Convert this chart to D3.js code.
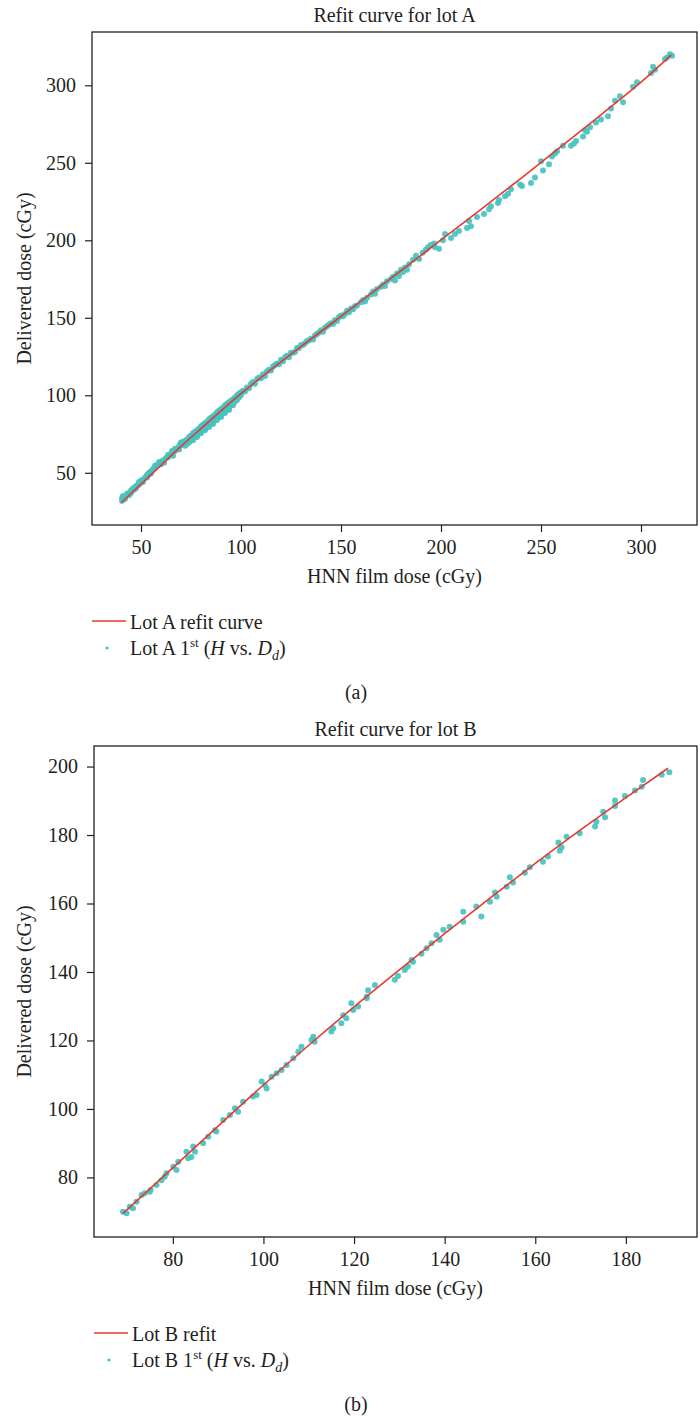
<!DOCTYPE html>
<html><head><meta charset="utf-8">
<script src="https://cdn.jsdelivr.net/npm/d3@7"></script>
<style>
body{margin:0;background:#fff}
svg{display:block}
text{font-family:"Liberation Serif","Times New Roman",serif;fill:#231f20}
</style>
</head><body>
<svg id="chart" width="700" height="1416"></svg>
<script>
// ---------- Data: Lot A measured points [HNN film dose, delivered dose] ----------
const lotA_points = [
[40.5,33.5],[40.5,32],[41,35],[42,34],[42,33],[43,36.5],[44,37],[44,35.5],[45,38.5],[45,37],[46,40],[46.5,39],[47.5,41.5],[47.5,40],
[48.5,42],[49,44],[49,42.5],[50,43.5],[50,45],[51,45.5],[51,44],[52,47],[53,48.5],[53,47],[54,49],[54,50],[55,51],[55,49.5],[56,52.5],
[57,53],[57,54.5],[58,55],[59,55.5],[59,57],[60,57],[60,55.5],[61,58],[61.5,56.5],[62.5,59.5],[63.5,60],[63.5,61.5],[64.5,62],[65.5,62.5],
[65.5,64],[66,61],[67,64],[67,65.5],[68,65.5],[69,65],[69,67],[69.5,68],[70,69.5],
[70.5,69.5],[70.5,68],[71,70],[72,70.5],[72,67.5],[73,71.5],[73,68.5],[74,73],[74,69.5],[75,74],[75,71],[76,75.5],[76,72],[76,71],
[77,76.5],[77,73],[78,77.5],[78,74],[78,73],[79,78.5],[79,75.5],[80,80],[80,76.5],[80,75.5],[81,81],[81,77.5],[82,82],[82,78.5],[82,77.5],
[83,83],[83,79.5],[84,84.5],[84,81],[84,79.5],[85,85.5],[85,82],[86,86.5],[86,83],[86,81.5],[87,87.5],[87,84],[88,89],[88,85.5],[88,84],
[89,90],[89,86.5],[90,91],[90,87.5],[90,86],[91,92],[91,88.5],[92,93.5],[92,90],[92,88.5],[93,94.5],[93,91],[94,95.5],[94,92],[94,90.5],
[95,96.5],[95,93.5],[96,97.5],[96,94.5],[96,93.5],[97,98.5],[97,96],[98,100],[98,97],[99,101],[99,98.5],[100,102],[100,100],
[101,103],[102,102.5],[103,105],[104,104.5],[105,107.5],[106,108.5],[107,107.5],[108,110.5],[109,111.5],[110,111],[111,113.5],[112,112.5],
[113,115.5],[114,116.5],[115,116],[116,118.5],[117,119.5],[118,120.5],[119,120],[120,123],[121,122],[122,124.5],[123,125.5],[124,124.5],
[125,127.5],[126,127.5],[127,128],[128,130.5],[129,130.5],[130,132.5],[131,132.5],[132,133.5],[133,135],[134,135.5],[135,136.5],[136,136],
[137,138.5],[138,139.5],[139,140.5],[140,142],[141,141],[142,143.5],[143,144.5],[144,145.5],[145,146.5],[146,146],[147,148.5],[148,148],
[149,150.5],[150,151.5],[151,151],[152,152.5],[153,154.5],[154,153.5],[155,156],[156,155.5],[157,157.5],[158,158],[160,160],[161,161.5],
[162,160.5],[163,163],[165,165],[166,167],[167,165.5],[168,168.5],[170,170],[171,171.5],[172,170.5],[173,173.5],[175,175],[176,176.5],
[177,174],[178,178.5],[179,177],[180,181],[181,179.5],[182,182.5],[183,181],[184,184.5],
[186,187.5],[187.5,190],[189,188],[190.8,192],[192.5,194],[193.5,195.5],[194.8,197],[196.5,198],[197,195.5],[199,194.5],[201,200],[202,204],
[205,201.5],[207,204],[209,206],[213,208],[214,212.5],[215,209],[218,215],[221.5,217],[224,220],[225,222],[228.5,224],[229,226],[232,228.5],
[233.5,230],[235,233],[239.5,236],[240.5,235],[245,237],[247,240.5],[250,251],[251,245],[254,249],[255.5,254],[257,256],[258,257.5],
[261,261],[265,261],[266.5,262.5],[267.5,264],[271,267],[272,271],[273,270],[274.5,273],[277.5,276],[280,278],[283.5,280],[285,285],
[287,290],[289.5,293],[291,289],[296,299],[298,302],[305,308],[306,312],[307,310],[312,317],[313,318],[314.5,320],[315.5,319]
];
const lotA_curveX = [40,50,60,70,80,90,100,110,120,130,145,160,180,200,220,240,260,280,300,315];
const lotA_curveY = [30.5,42.7,54.8,67,78.5,90,101,111.5,121.6,131.4,146,160.8,180.4,200.2,220,240,260.4,281,302,319.5];
const lotA_xTicks = [50,100,150,200,250,300];
const lotA_yTicks = [50,100,150,200,250,300];

// ---------- Data: Lot B measured points ----------
const lotB_points = [
[69.0,70.0],[69.8,69.5],[70.5,71.4],[71.2,71.0],[72.0,72.9],[73.1,74.9],[73.8,75.4],[74.9,75.8],[75.1,76.3],[76.4,77.8],[77.5,79.2],
[78.2,80.2],[78.6,81.2],[80.1,83.1],[80.8,82.2],[81.2,84.6],[83.0,87.5],[83.4,85.6],[84.1,86.0],[84.9,87.5],[84.5,89.0],[86.7,90.0],
[87.8,91.9],[89.3,93.8],[89.6,93.4],[91.1,96.8],[92.6,98.2],[93.7,100.2],[94.4,99.2],[95.5,102.1],[97.7,103.6],[98.5,104.1],[99.6,108.0],
[100.7,106.0],[100.3,107.0],[101.8,109.4],[102.9,110.4],[104.0,111.4],[105.1,112.8],[106.6,114.8],[107.7,116.7],[108.4,118.2],[110.6,120.1],
[111.0,121.1],[111.3,119.6],[115.0,122.6],[115.4,123.6],[117.2,125.0],[117.6,127.4],[118.3,126.5],[119.4,130.9],[119.8,128.9],[120.9,129.9],
[122.8,132.8],[123.1,134.7],[122.8,132.3],[124.6,136.2],[129.0,137.7],[129.7,138.8],[131.2,140.6],[131.9,141.6],[132.7,143.5],[133.0,143.0],
[134.9,145.3],[136.0,146.9],[137.1,148.4],[138.2,150.8],[138.9,149.4],[139.7,152.3],[141.1,153.2],[144.1,157.6],[144.1,154.7],[147.0,159.1],
[148.1,156.2],[150.0,160.5],[151.1,163.2],[151.5,162.0],[153.7,164.9],[154.4,167.7],[155.1,166.1],[157.7,169.0],[158.8,170.6],[161.7,172.2],
[162.8,173.7],[165.1,177.8],[165.4,175.4],[165.8,176.4],[166.9,179.5],[169.8,180.5],[173.2,182.5],[173.5,183.9],[175.0,186.8],[175.4,185.2],
[177.6,190.1],[177.6,188.5],[179.8,191.4],[182.0,193.0],[183.5,194.1],[183.8,196.1],[187.9,197.6],[189.6,198.3]
];
const lotB_curveX = [69,80,90,100,110,120,130,140,150,160,170,180,189.3];
const lotB_curveY = [69.5,82.8,95,107,118.6,129.8,140.6,151.2,161.6,171.7,181.5,190.9,199.5];
const lotB_xTicks = [80,100,120,140,160,180];
const lotB_yTicks = [80,100,120,140,160,180,200];

// ---------- Text ----------
const panelTitles = ["Refit curve for lot A", "Refit curve for lot B"];
const lineLegend = ["Lot A refit curve", "Lot B refit"];
const pointLegendLot = ["Lot A", "Lot B"];
const captions = ["(a)", "(b)"];
const xLabel = "HNN film dose (cGy)";
const yLabel = "Delivered dose (cGy)";

const TEAL = "#45c3c1", RED = "#e8392e", INK = "#231f20";
const svg = d3.select("#chart");

const panels = [
  {left:92, right:697, top:32, bottom:525, xDom:[25.5,328], yDom:[16.3,334.4],
   pts:lotA_points, cx:lotA_curveX, cy:lotA_curveY, xt:lotA_xTicks, yt:lotA_yTicks, i:0},
  {left:94, right:697, top:746, bottom:1237, xDom:[62.6,195.7], yDom:[62.6,206.0],
   pts:lotB_points, cx:lotB_curveX, cy:lotB_curveY, xt:lotB_xTicks, yt:lotB_yTicks, i:1}
];

panels.forEach(p => {
  const x = d3.scaleLinear().domain(p.xDom).range([p.left, p.right]);
  const y = d3.scaleLinear().domain(p.yDom).range([p.bottom, p.top]);
  const g = svg.append("g");
  const clipId = "clip" + p.i;
  g.append("clipPath").attr("id", clipId).append("rect")
    .attr("x", p.left).attr("y", p.top).attr("width", p.right - p.left).attr("height", p.bottom - p.top);

  g.append("g").attr("clip-path", `url(#${clipId})`).selectAll("circle").data(p.pts).join("circle")
    .attr("cx", d => x(d[0])).attr("cy", d => y(d[1])).attr("r", 3)
    .attr("fill", TEAL).attr("fill-opacity", 0.92);

  const curve = p.cx.map((v, k) => [v, p.cy[k]]);
  g.append("path").attr("clip-path", `url(#${clipId})`).datum(curve)
    .attr("d", d3.line().x(d => x(d[0])).y(d => y(d[1])).curve(d3.curveMonotoneX))
    .attr("fill", "none").attr("stroke", RED).attr("stroke-width", 1.6);

  g.append("rect").attr("x", p.left).attr("y", p.top).attr("width", p.right - p.left).attr("height", p.bottom - p.top)
    .attr("fill", "none").attr("stroke", INK).attr("stroke-width", 1.3);

  const xa = g.append("g").attr("transform", `translate(0,${p.bottom})`)
    .call(d3.axisBottom(x).tickValues(p.xt).tickSize(7).tickPadding(8).tickFormat(d3.format("d")));
  const ya = g.append("g").attr("transform", `translate(${p.left},0)`)
    .call(d3.axisLeft(y).tickValues(p.yt).tickSize(7).tickPadding(9).tickFormat(d3.format("d")));
  [xa, ya].forEach(a => {
    a.select(".domain").remove();
    a.selectAll("line").attr("stroke", INK).attr("stroke-width", 1.2);
    a.selectAll("text").attr("font-size", 20).attr("font-family", '"Liberation Serif",serif').attr("fill", INK);
  });

  const cxMid = (p.left + p.right) / 2;
  g.append("text").attr("x", cxMid).attr("y", p.top - 10).attr("text-anchor", "middle")
    .attr("font-size", 20).text(panelTitles[p.i]);
  g.append("text").attr("x", cxMid).attr("y", p.bottom + 58).attr("text-anchor", "middle")
    .attr("font-size", 20).text(xLabel);
  g.append("text").attr("transform", `translate(31,${(p.top + p.bottom) / 2}) rotate(-90)`)
    .attr("text-anchor", "middle").attr("font-size", 20).text(yLabel);

  const ly1 = p.bottom + 97, ly2 = p.bottom + 123;
  g.append("line").attr("x1", p.left).attr("x2", p.left + 34).attr("y1", ly1 - 1).attr("y2", ly1 - 1)
    .attr("stroke", RED).attr("stroke-width", 1.6);
  g.append("text").attr("x", p.left + 38).attr("y", ly1 + 7).attr("font-size", 20).text(lineLegend[p.i]);
  g.append("circle").attr("cx", p.left + 15).attr("cy", ly2).attr("r", 1.6).attr("fill", TEAL);
  const t = g.append("text").attr("x", p.left + 38).attr("y", ly2 + 7).attr("font-size", 20);
  t.append("tspan").text(pointLegendLot[p.i] + " 1");
  t.append("tspan").attr("font-size", 13).attr("dy", -8).text("st");
  t.append("tspan").attr("dy", 8).text(" (");
  t.append("tspan").attr("font-style", "italic").text("H");
  t.append("tspan").text(" vs. ");
  t.append("tspan").attr("font-style", "italic").text("D");
  t.append("tspan").attr("font-style", "italic").attr("font-size", 14).attr("dy", 5).text("d");
  t.append("tspan").attr("dy", -5).text(")");

  g.append("text").attr("x", 356).attr("y", p.bottom + 174).attr("text-anchor", "middle")
    .attr("font-size", 20).text(captions[p.i]);
});
</script>
</body></html>
